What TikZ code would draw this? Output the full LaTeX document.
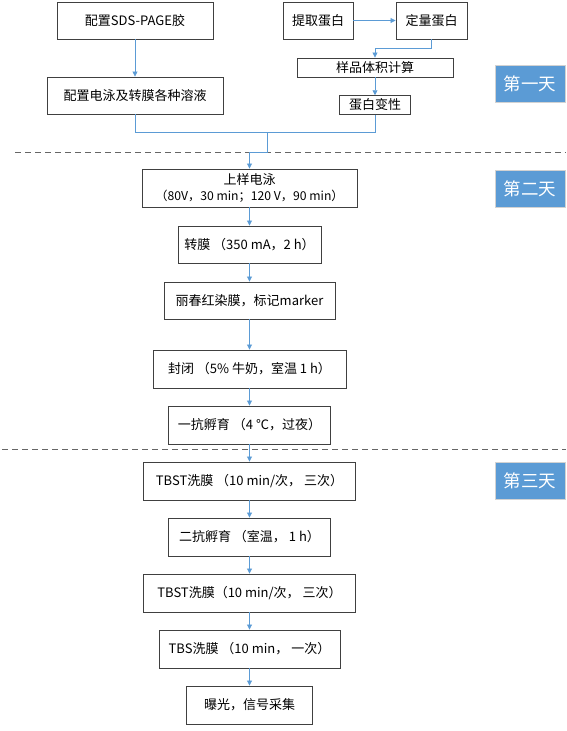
\documentclass[tikz,border=0pt]{standalone}
\usepackage{fontspec}
\setmainfont{Noto Sans CJK SC}
\usetikzlibrary{arrows.meta}
\definecolor{arrowblue}{HTML}{5B9BD5}
\definecolor{daybox}{HTML}{5B9BD5}
\definecolor{boxline}{HTML}{404040}
\begin{document}
\begin{tikzpicture}[x=1pt,y=-1pt,
 stepbox/.style={draw=boxline, line width=0.9pt, fill=white, inner sep=0pt, font=\fontsize{13}{16}\selectfont, align=center},
 daylabel/.style={draw=gray!35, line width=1pt, fill=daybox, text=white, font=\fontsize{17.5}{20}\selectfont, minimum width=70pt, minimum height=37pt, inner sep=0pt},
 arr/.style={draw=arrowblue, line width=0.8pt, -{Triangle[length=5pt,width=5pt]}},
 ln/.style={draw=arrowblue, line width=0.8pt},
 sep/.style={draw=gray!80!black, dash pattern=on 6pt off 4pt, line width=0.9pt}
]
\useasboundingbox (0,0) rectangle (566,731);
% separators
\coordinate (d1s) at (15,152);
\coordinate (d1e) at (566,152);
\coordinate (d2s) at (2,449);
\coordinate (d2e) at (566,449);
\draw[sep] (d1s) -- (d1e);
\draw[sep] (d2s) -- (d2e);
% day 1 nodes
\node[stepbox, minimum width=156pt, minimum height=37pt] (sds) at (135,20.5) {配置SDS-PAGE胶};
\node[stepbox, minimum width=70pt, minimum height=37pt] (tiqu) at (318,20.5) {提取蛋白};
\node[stepbox, minimum width=71pt, minimum height=37pt] (dingliang) at (431.5,20.5) {定量蛋白};
\node[stepbox, minimum width=156pt, minimum height=19pt] (yangpin) at (375,67.5) {样品体积计算};
\node[stepbox, minimum width=71pt, minimum height=18.6pt] (bianxing) at (375,105) {蛋白变性};
\node[stepbox, minimum width=176pt, minimum height=37pt] (peizhi) at (135,95.5) {配置电泳及转膜各种溶液};
\node[daylabel] (day1) at (530,83.5) {第一天};
% day 2 nodes
\node[stepbox, minimum width=215pt, minimum height=38pt] (shangyang) at (249.5,188) {上样电泳\\{\fontsize{12.2}{15}\selectfont （80V，30 min；120 V，90 min）}};
\node[stepbox, minimum width=143pt, minimum height=37pt] (zhuanmo) at (249.5,244.5) {转膜 （350 mA，2 h）};
\node[stepbox, minimum width=171pt, minimum height=37pt] (lichun) at (249.5,300.5) {丽春红染膜，标记marker};
\node[stepbox, minimum width=193pt, minimum height=38pt] (fengbi) at (249.5,369) {封闭 （5\% 牛奶，室温 1 h）};
\node[stepbox, minimum width=162pt, minimum height=38pt] (yikang) at (249.5,425) {一抗孵育 （4 ℃，过夜）};
\node[daylabel] (day2) at (530,188.5) {第二天};
% day 3 nodes
\node[stepbox, minimum width=212pt, minimum height=38pt] (tbsta) at (249.5,481) {TBST洗膜 （10 min/次， 三次）};
\node[stepbox, minimum width=162pt, minimum height=38pt] (erkang) at (249.5,537) {二抗孵育 （室温， 1 h）};
\node[stepbox, minimum width=212pt, minimum height=38pt] (tbstb) at (249.5,593) {TBST洗膜（10 min/次， 三次）};
\node[stepbox, minimum width=181pt, minimum height=38pt] (tbs) at (249.5,649) {TBS洗膜 （10 min， 一次）};
\node[stepbox, minimum width=126pt, minimum height=38pt] (baoguang) at (249.5,705) {曝光，信号采集};
\node[daylabel] (day3) at (530,481) {第三天};
% connectors day 1
\draw[arr] (sds) -- (peizhi);
\draw[arr] (tiqu) -- (dingliang);
\coordinate (k1) at (375,48);
\draw[arr] (dingliang.south) |- (k1) -- (yangpin.north);
\draw[arr] (yangpin) -- (bianxing);
\coordinate (j) at (267,132);
\coordinate (k2) at (249.5,152);
\draw[ln] (peizhi.south) |- (j);
\draw[ln] (bianxing.south) |- (j);
\draw[arr] (j) |- (k2) -- (shangyang.north);
% main column
\draw[arr] (shangyang) -- (zhuanmo);
\draw[arr] (zhuanmo) -- (lichun);
\draw[arr] (lichun) -- (fengbi);
\draw[arr] (fengbi) -- (yikang);
\draw[arr] (yikang) -- (tbsta);
\draw[arr] (tbsta) -- (erkang);
\draw[arr] (erkang) -- (tbstb);
\draw[arr] (tbstb) -- (tbs);
\draw[arr] (tbs) -- (baoguang);
\end{tikzpicture}
\end{document}
